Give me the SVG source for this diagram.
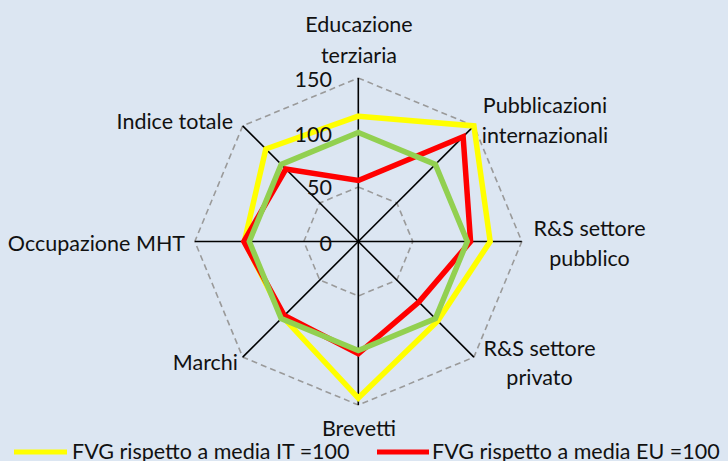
<svg xmlns="http://www.w3.org/2000/svg" width="728" height="461" viewBox="0 0 728 461">
<style>
text{font-family:Lato,"Open Sans","Liberation Sans",sans-serif;font-size:21.5px;fill:#111}
.m{text-anchor:middle}.e{text-anchor:end}
.ring{fill:none;stroke:#9a9a9a;stroke-width:1.6;stroke-dasharray:6 4}
.ax{stroke:#000;stroke-width:1.6}
.s{fill:none;stroke-width:5.5;stroke-linejoin:miter;stroke-miterlimit:10}
</style>
<rect width="728" height="461" fill="#DCE6F2"/>
<g id="grid">
<polygon class="ring" points="358.3,78 473.91,125.89 521.8,241.5 473.91,357.11 358.3,405 242.69,357.11 194.8,241.5 242.69,125.89"/>
<polygon class="ring" points="358.3,187 396.84,202.96 412.8,241.5 396.84,280.04 358.3,296 319.76,280.04 303.8,241.5 319.76,202.96"/>
</g>
<g id="axes">
<line class="ax" x1="358.3" y1="241.5" x2="358.3" y2="78"/>
<line class="ax" x1="358.3" y1="241.5" x2="473.91" y2="125.89"/>
<line class="ax" x1="358.3" y1="241.5" x2="521.8" y2="241.5"/>
<line class="ax" x1="358.3" y1="241.5" x2="473.91" y2="357.11"/>
<line class="ax" x1="358.3" y1="241.5" x2="358.3" y2="405"/>
<line class="ax" x1="358.3" y1="241.5" x2="242.69" y2="357.11"/>
<line class="ax" x1="358.3" y1="241.5" x2="194.8" y2="241.5"/>
<line class="ax" x1="358.3" y1="241.5" x2="242.69" y2="125.89"/>
</g>
<g id="series">
<polygon id="series-it" class="s" stroke="#FFFF00" points="358.3,116.15 473.91,125.89 490.19,241.5 437.69,320.89 358.3,398.02 282.77,317.03 244.4,241.5 265.81,149.01"/>
<polygon id="series-eu" class="s" stroke="#FF0000" points="358.3,180.46 463.12,136.68 470.57,241.5 418.8,302 358.3,353.77 284.31,315.49 243.85,241.5 285.85,169.05"/>
<polygon id="series-base" class="s" stroke="#92D050" points="358.3,132.5 435.37,164.43 467.3,241.5 435.37,318.57 358.3,350.5 281.23,318.57 249.3,241.5 281.23,164.43"/>
</g>
<g id="scale">
<text class="e" x="332" y="87">150</text>
<text class="e" x="332" y="142">100</text>
<text class="e" x="332" y="195">50</text>
<text class="e" x="332" y="251">0</text>
</g>
<g id="label-educazione"><text class="m" x="359" y="32">Educazione</text><text class="m" x="359" y="63">terziaria</text></g>
<g id="label-pubblicazioni"><text class="m" x="545" y="113">Pubblicazioni</text><text class="m" x="545" y="143">internazionali</text></g>
<g id="label-rs-pubblico"><text class="m" x="589.5" y="236">R&amp;S settore</text><text class="m" x="589.5" y="266">pubblico</text></g>
<g id="label-rs-privato"><text class="m" x="539.5" y="356">R&amp;S settore</text><text class="m" x="539.5" y="385">privato</text></g>
<g id="label-brevetti"><text class="m" x="359" y="436">Brevetti</text></g>
<g id="label-marchi"><text class="e" x="238" y="370">Marchi</text></g>
<g id="label-occupazione"><text class="e" x="185" y="251">Occupazione MHT</text></g>
<g id="label-indice"><text class="e" x="233" y="129">Indice totale</text></g>
<g id="legend">
<line x1="14" y1="452" x2="67" y2="452" stroke="#FFFF00" stroke-width="5"/>
<text x="72" y="459">FVG rispetto a media IT =100</text>
<line x1="377" y1="452" x2="429" y2="452" stroke="#FF0000" stroke-width="5"/>
<text x="432" y="459">FVG rispetto a media EU =100</text>
</g>
</svg>
